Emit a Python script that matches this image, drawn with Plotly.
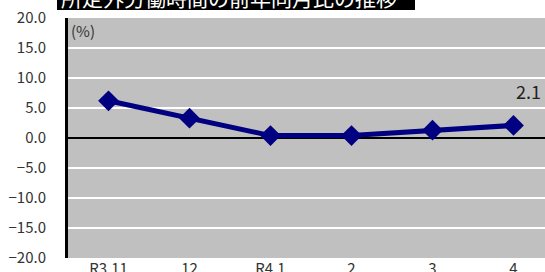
import plotly.graph_objects as go

categories = ["R3.11", "12", "R4.1", "2", "3", "4"]
values = [6.2, 3.3, 0.4, 0.4, 1.3, 2.1]
y_ticks = [20, 15, 10, 5, 0, -5, -10, -15, -20]
y_tick_labels = ["20.0", "15.0", "10.0", "5.0", "0.0", "\u22125.0", "\u221210.0", "\u221215.0", "\u221220.0"]
title_text = "所定外労働時間の前年同月比の推移"
unit_text = "(%)"

W, H = 545, 272
L, T, B, R = 68, 18, 14, 0
ph = H - T - B
pw = W - L - R

font = "Noto Sans CJK JP"

fig = go.Figure()
fig.add_trace(go.Scatter(
    x=list(range(len(categories))), y=values, mode="lines+markers",
    line=dict(color="#000080", width=5),
    marker=dict(symbol="diamond", size=16, color="#000080"),
    showlegend=False, cliponaxis=False, hoverinfo="skip",
))
# value label only on the last point
fig.add_annotation(x=len(categories) - 1, y=values[-1], xref="x", yref="y",
                   text=f"{values[-1]:.1f}", showarrow=False,
                   xanchor="left", yanchor="middle", xshift=0, yshift=34,
                   font=dict(size=18, color="#222", family=font))

fig.update_layout(
    width=W, height=H,
    margin=dict(l=L, r=R, t=T, b=B, pad=0),
    paper_bgcolor="white", plot_bgcolor="#c0c0c0",
    font=dict(family=font, size=15, color="#333"),
    xaxis=dict(
        tickmode="array", tickvals=list(range(len(categories))), ticktext=categories,
        range=[-0.5, -0.5 + pw / 81.0], showgrid=False, zeroline=False,
        showline=False, ticks="", tickfont=dict(size=15, color="#333"),
        ticklabelstandoff=0, fixedrange=True, automargin=False,
    ),
    yaxis=dict(
        range=[-20, 20], tickmode="array", tickvals=y_ticks, ticktext=y_tick_labels,
        showgrid=True, gridcolor="white", gridwidth=2,
        zeroline=True, zerolinecolor="black", zerolinewidth=2,
        showline=True, linecolor="black", linewidth=3,
        ticks="", ticklabelstandoff=16, tickfont=dict(size=15, color="#333"),
        automargin=False, fixedrange=True,
    ),
)

# title box
fig.add_shape(type="rect", xref="paper", yref="paper",
              x0=(57 - L) / pw, x1=(415 - L) / pw,
              y0=1 + (T - 10) / ph, y1=1 + T / ph + 0.05,
              fillcolor="black", line=dict(width=0), layer="above")
fig.add_annotation(xref="paper", yref="paper", x=(59 - L) / pw, y=1 + (T + 3) / ph,
                   xanchor="left", yanchor="middle", showarrow=False,
                   text=title_text, font=dict(size=21, color="white", family=font))
fig.add_annotation(xref="paper", yref="paper", x=0.003, y=1 - 12 / ph,
                   xanchor="left", yanchor="middle", showarrow=False,
                   text=unit_text, font=dict(size=15, color="#333", family=font))

fig.write_html("out.html", config={"displayModeBar": False},
               post_script="document.body.style.margin='0';document.body.style.overflow='hidden';")
